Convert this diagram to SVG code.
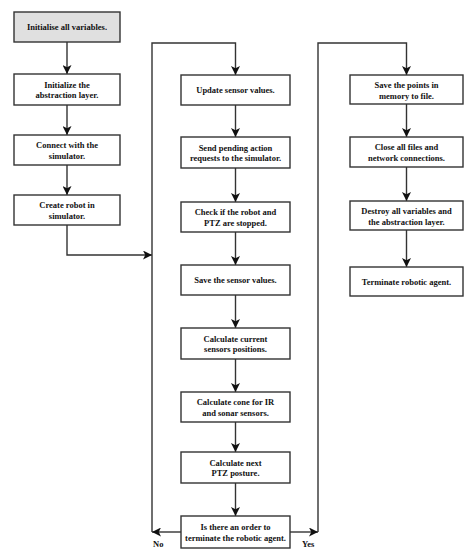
<svg xmlns="http://www.w3.org/2000/svg" width="474" height="560" viewBox="0 0 474 560">
<style>
.box{fill:#ffffff;stroke:#333333;stroke-width:1.4}
.start{fill:#e0e0e0}
.t{font-family:"Liberation Serif","Times New Roman",serif;font-weight:bold;font-size:8.5px;fill:#111111;text-anchor:middle}
.lab{font-family:"Liberation Serif","Times New Roman",serif;font-weight:bold;font-size:8.5px;fill:#111111}
.c{fill:none;stroke:#333333;stroke-width:1.4}
</style>
<defs>
<marker id="ah" viewBox="0 0 10 10" refX="10" refY="5" markerWidth="9" markerHeight="9" markerUnits="userSpaceOnUse" orient="auto">
<path d="M0,0 L10,5 L0,10 L2.5,5 z" fill="#111111"/>
</marker>
</defs>
<rect width="474" height="560" fill="#ffffff"/>
<g id="connectors">
<line class="c" x1="67" y1="42" x2="67" y2="74" marker-end="url(#ah)"/>
<line class="c" x1="67" y1="105" x2="67" y2="135" marker-end="url(#ah)"/>
<line class="c" x1="67" y1="165" x2="67" y2="195" marker-end="url(#ah)"/>
<polyline class="c" points="67,225 67,255 152,255" marker-end="url(#ah)"/>
<polyline class="c" points="152,532 152,43 235.5,43 235.5,75" marker-end="url(#ah)"/>
<line class="c" x1="235.5" y1="105" x2="235.5" y2="137" marker-end="url(#ah)"/>
<line class="c" x1="235.5" y1="168" x2="235.5" y2="202" marker-end="url(#ah)"/>
<line class="c" x1="235.5" y1="232" x2="235.5" y2="265" marker-end="url(#ah)"/>
<line class="c" x1="235.5" y1="295" x2="235.5" y2="328" marker-end="url(#ah)"/>
<line class="c" x1="235.5" y1="359" x2="235.5" y2="392" marker-end="url(#ah)"/>
<line class="c" x1="235.5" y1="422" x2="235.5" y2="452" marker-end="url(#ah)"/>
<line class="c" x1="235.5" y1="483" x2="235.5" y2="516" marker-end="url(#ah)"/>
<line class="c" x1="181" y1="532" x2="152" y2="532" marker-end="url(#ah)"/>
<line class="c" x1="290" y1="532" x2="318" y2="532" marker-end="url(#ah)"/>
<polyline class="c" points="318,532 318,43 406.5,43 406.5,75" marker-end="url(#ah)"/>
<line class="c" x1="406.5" y1="104" x2="406.5" y2="137" marker-end="url(#ah)"/>
<line class="c" x1="406.5" y1="167" x2="406.5" y2="201" marker-end="url(#ah)"/>
<line class="c" x1="406.5" y1="230" x2="406.5" y2="267" marker-end="url(#ah)"/>
<text class="lab" x="153" y="547">No</text>
<text class="lab" x="302" y="547">Yes</text>
</g>
<g id="n_init">
<rect class="box start" x="14" y="12" width="106" height="30"/>
<text class="t" x="67" y="30">Initialise all variables.</text>
</g>
<g id="n_abs">
<rect class="box" x="14" y="74" width="106" height="31"/>
<text class="t" x="67" y="87.5">Initialize the</text>
<text class="t" x="67" y="98">abstraction layer.</text>
</g>
<g id="n_connect">
<rect class="box" x="14" y="135" width="106" height="30"/>
<text class="t" x="67" y="148">Connect with the</text>
<text class="t" x="67" y="158.5">simulator.</text>
</g>
<g id="n_create">
<rect class="box" x="14" y="195" width="106" height="30"/>
<text class="t" x="67" y="208">Create robot in</text>
<text class="t" x="67" y="218.5">simulator.</text>
</g>
<g id="n_update">
<rect class="box" x="181" y="75" width="109" height="30"/>
<text class="t" x="235.5" y="93">Update sensor values.</text>
</g>
<g id="n_send">
<rect class="box" x="181" y="137" width="109" height="31"/>
<text class="t" x="235.5" y="150.5">Send pending action</text>
<text class="t" x="235.5" y="161">requests to the simulator.</text>
</g>
<g id="n_check">
<rect class="box" x="181" y="202" width="109" height="30"/>
<text class="t" x="235.5" y="215">Check if the robot and</text>
<text class="t" x="235.5" y="225.5">PTZ are stopped.</text>
</g>
<g id="n_save">
<rect class="box" x="181" y="265" width="109" height="30"/>
<text class="t" x="235.5" y="283">Save the sensor values.</text>
</g>
<g id="n_calcpos">
<rect class="box" x="181" y="328" width="109" height="31"/>
<text class="t" x="235.5" y="341.5">Calculate current</text>
<text class="t" x="235.5" y="352">sensors positions.</text>
</g>
<g id="n_cone">
<rect class="box" x="181" y="392" width="109" height="30"/>
<text class="t" x="235.5" y="405">Calculate cone for IR</text>
<text class="t" x="235.5" y="415.5">and sonar sensors.</text>
</g>
<g id="n_ptz">
<rect class="box" x="181" y="452" width="109" height="31"/>
<text class="t" x="235.5" y="465.5">Calculate next</text>
<text class="t" x="235.5" y="476">PTZ posture.</text>
</g>
<g id="n_order">
<rect class="box" x="181" y="516" width="109" height="32"/>
<text class="t" x="235.5" y="530">Is there an order to</text>
<text class="t" x="235.5" y="540.5">terminate the robotic agent.</text>
</g>
<g id="n_points">
<rect class="box" x="350" y="75" width="113" height="29"/>
<text class="t" x="406.5" y="88">Save the points in</text>
<text class="t" x="406.5" y="98.5">memory to file.</text>
</g>
<g id="n_close">
<rect class="box" x="350" y="137" width="113" height="30"/>
<text class="t" x="406.5" y="150">Close all files and</text>
<text class="t" x="406.5" y="160.5">network connections.</text>
</g>
<g id="n_destroy">
<rect class="box" x="350" y="201" width="113" height="29"/>
<text class="t" x="406.5" y="214">Destroy all variables and</text>
<text class="t" x="406.5" y="224.5">the abstraction layer.</text>
</g>
<g id="n_term">
<rect class="box" x="350" y="267" width="113" height="29"/>
<text class="t" x="406.5" y="284.5">Terminate robotic agent.</text>
</g>
</svg>
